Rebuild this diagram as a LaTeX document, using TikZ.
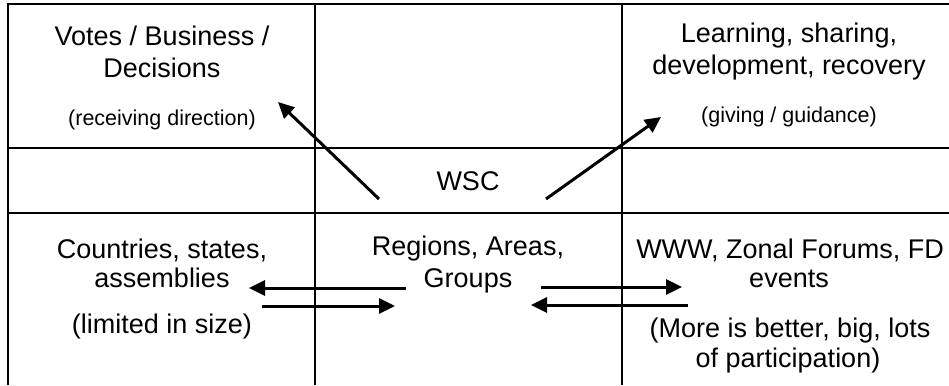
\documentclass[tikz,border=0pt]{standalone}
\usepackage{fontspec}
\setmainfont{Liberation Sans}
\usetikzlibrary{arrows.meta}

\tikzset{
  gridline/.style={line width=2pt, black},
  maintext/.style={anchor=base, inner sep=0pt, font=\fontsize{27}{30}\selectfont},
  smalltext/.style={anchor=base, inner sep=0pt, font=\fontsize{21.5}{24}\selectfont},
  flow/.style={line width=3pt, -{Triangle[length=16pt,width=15pt]}},
}

\begin{document}
\begin{tikzpicture}[x=1pt, y=-1pt]
  \useasboundingbox (0,0) rectangle (949,385);

  % table frame: open at the right and bottom
  \draw[gridline] (8,385) -- (8,4) -- (949,4);
  \draw[gridline] (315,4) -- (315,385);
  \draw[gridline] (622,4) -- (622,385);
  \draw[gridline] (8,148) -- (949,148);
  \draw[gridline] (8,213) -- (949,213);

  % top row
  \node[maintext]  (votes1) at (162,46)  {Votes / Business /};
  \node[maintext]  (votes2) at (162,78)  {Decisions};
  \node[smalltext] (votes3) at (162,125) {(receiving direction)};

  \node[maintext]  (learn1) at (789,43)  {Learning, sharing,};
  \node[maintext]  (learn2) at (789,75)  {development, recovery};
  \node[smalltext] (learn3) at (789,122) {(giving / guidance)};

  % middle row
  \node[maintext] (wsc) at (468,190) {WSC};

  % bottom row
  \node[maintext] (ctry1) at (162,258) {Countries, states,};
  \node[maintext] (ctry2) at (162,287) {assemblies};
  \node[maintext] (ctry3) at (162,333) {(limited in size)};

  \node[maintext] (reg1) at (468,255) {Regions, Areas,};
  \node[maintext] (reg2) at (468,287) {Groups};

  \node[maintext] (www1) at (790,258) {WWW, Zonal Forums, FD};
  \node[maintext] (www2) at (789,287) {events};
  \node[maintext] (www3) at (790,337) {(More is better, big, lots};
  \node[maintext] (www4) at (788,367) {of participation)};

  % arrow end points
  \coordinate (wscL)   at (379,199);
  \coordinate (votesT) at (278,102);
  \coordinate (wscR)   at (546,199);
  \coordinate (learnT) at (661,117);

  \coordinate (regLo) at (406,288);
  \coordinate (ctryI) at (249,288);
  \coordinate (ctryO) at (262,306);
  \coordinate (regLi) at (395,306);

  \coordinate (regRo) at (541,287);
  \coordinate (wwwI)  at (682,287);
  \coordinate (wwwO)  at (688,305);
  \coordinate (regRi) at (531,305);

  % connectors
  \draw[flow] (wscL) -- (votesT);
  \draw[flow] (wscR) -- (learnT);
  \draw[flow] (regLo) -- (ctryI);
  \draw[flow] (ctryO) -- (regLi);
  \draw[flow] (regRo) -- (wwwI);
  \draw[flow] (wwwO) -- (regRi);
\end{tikzpicture}
\end{document}
